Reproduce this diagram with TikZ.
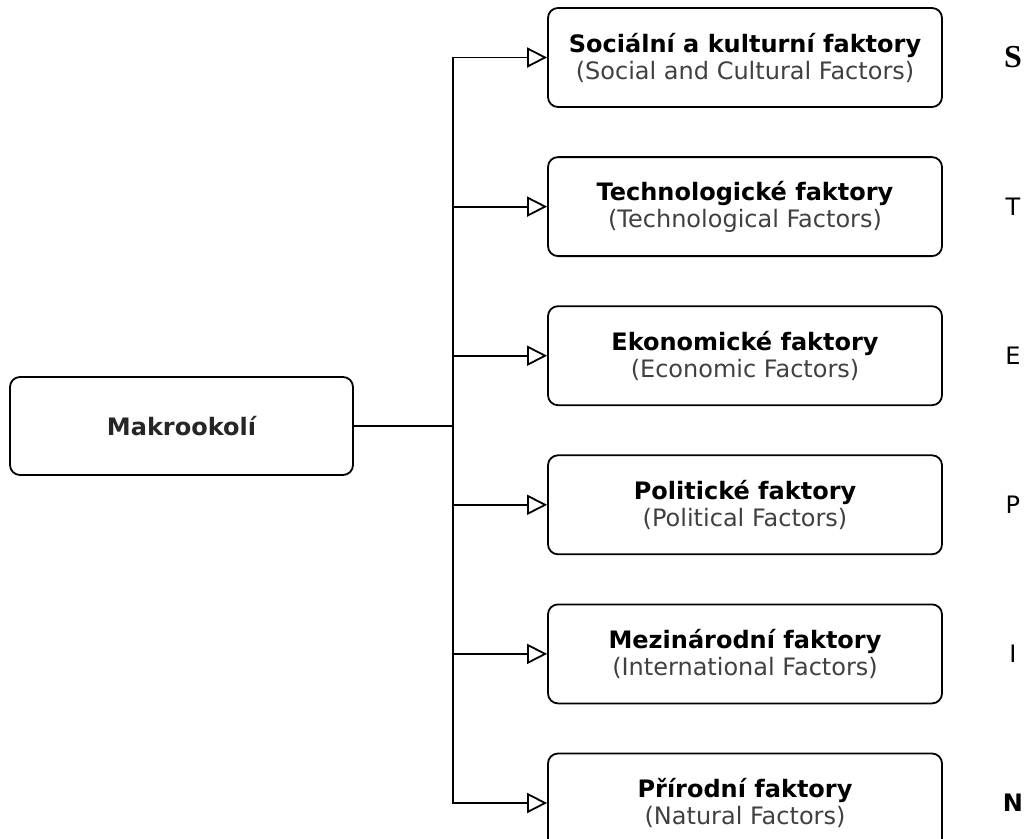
\documentclass[tikz,border=0pt]{standalone}
\usepackage{fontspec}
\setmainfont{DejaVu Sans}
\newfontfamily\letterserif{Liberation Serif}
\usepackage{xcolor}
\usetikzlibrary{arrows.meta, positioning}

\begin{document}
\begin{tikzpicture}[x=1pt, y=-1pt,
    node distance=48.3pt,
    every node/.style={font=\fontsize{24pt}{27pt}\selectfont},
    factor/.style={rectangle, rounded corners=10pt, draw=black, line width=1.8pt, minimum width=394pt, minimum height=99pt, align=center, inner sep=0pt},
    root/.style={factor, minimum width=343pt, minimum height=98pt, text=black!85},
    letter/.style={inner sep=0pt},
    arrow/.style={-{Triangle[open, length=20pt, width=20pt, line width=1.8pt]}, line width=1.8pt}
]
\path[use as bounding box, clip] (0,0) rectangle (1030,838);

% Define nodes
\node[root] (makro) at (181.5,426) {\bfseries Makrookolí};

% Factor boxes
\node[factor] (social) at (745,57.5) {\bfseries Sociální a kulturní faktory\\{\color{black!75}(Social and Cultural Factors)}};
\node[factor, below=of social] (tech) {\bfseries Technologické faktory\\{\color{black!75}(Technological Factors)}};
\node[factor, below=of tech] (econ) {\bfseries Ekonomické faktory\\{\color{black!75}(Economic Factors)}};
\node[factor, below=of econ] (polit) {\bfseries Politické faktory\\{\color{black!75}(Political Factors)}};
\node[factor, below=of polit] (intl) {\bfseries Mezinárodní faktory\\{\color{black!75}(International Factors)}};
\node[factor, below=of intl] (nature) {\bfseries Přírodní faktory\\{\color{black!75}(Natural Factors)}};

% Letters
\node[letter] at ([xshift=70pt]social.east) {\fontsize{32pt}{32pt}\letterserif\bfseries S};
\node[letter] at ([xshift=70pt]tech.east) {T};
\node[letter] at ([xshift=70pt]econ.east) {E};
\node[letter] at ([xshift=70pt]polit.east) {P};
\node[letter] at ([xshift=70pt]intl.east) {I};
\node[letter] at ([xshift=70pt]nature.east) {\bfseries N};

% Draw arrows
\coordinate (trunk) at (453,426);
\draw[line width=1.8pt] (makro) -- (trunk);
\foreach \f in {social, tech, econ, polit, intl, nature}
    \draw[arrow] (trunk) |- (\f.west);

\end{tikzpicture}
\end{document}
